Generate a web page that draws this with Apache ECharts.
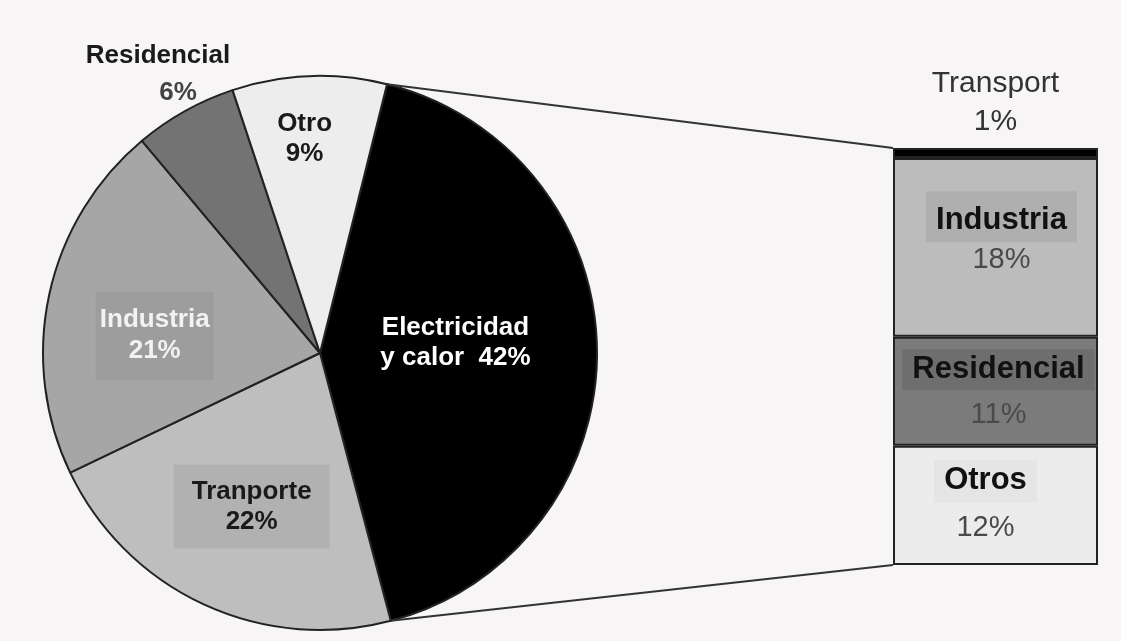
<!DOCTYPE html>
<html>
<head>
<meta charset="utf-8">
<title>Emisiones por sector</title>
<script src="https://cdn.jsdelivr.net/npm/echarts@6/dist/echarts.min.js"></script>
<style>
  html, body { margin: 0; padding: 0; background: #f7f5f6; }
  #chart { width: 1121px; height: 641px; }
</style>
</head>
<body>
<div id="chart"></div>
<script>
// datos del pastel (porcentaje del total)
const pieNames = ["Electricidad y calor", "Tranporte", "Industria", "Residencial", "Otro"];
const pieValues = [42, 22, 21, 6, 9];
// desglose de "Electricidad y calor"
const barNames = ["Transport", "Industria", "Residencial", "Otros"];
const barValues = [1, 18, 11, 12];

const pieColors = ["#000000", "#bebebe", "#a6a6a6", "#737373", "#ededed"];
const barColors = ["#000000", "#bcbcbc", "#7b7b7b", "#ececec"];

const FONT = '"Liberation Sans", Arial, sans-serif';
const pieCenter = [320, 353];
const pieRadius = 277;
const startAngle = 76;
const grid = { left: 893, top: 148, width: 205, height: 417 };

const chart = echarts.init(document.getElementById("chart"));

// etiquetas del pastel
const pieLabels = [
  { formatter: "Electricidad\ny calor  42%", color: "#fff", lineHeight: 30 },
  { formatter: "{b|Tranporte}\n{b|22%}", backgroundColor: "#b1b1b1", padding: [12, 18, 12, 18] },
  { formatter: "{w|Industria}\n{w|21%}", backgroundColor: "#9d9d9d", padding: [13, 4, 14, 4] },
  { formatter: "{r|Residencial}\n{p|6%}" },
  { formatter: "{b|Otro}\n{b|9%}" }
];
const pieShift = [[-6, -9], [-9, 25], [-27, 13], [-93, -155], [-10, -73]];

const pieData = pieValues.map((v, i) => ({
  name: pieNames[i],
  value: v,
  itemStyle: { color: pieColors[i] },
  label: Object.assign({
    show: true,
    position: "inside",
    fontFamily: FONT,
    fontSize: 26,
    fontWeight: "bold",
    lineHeight: 30,
    color: "#111",
    rich: {
      b: { fontFamily: FONT, fontSize: 26, fontWeight: "bold", color: "#1a1a1a", lineHeight: 30 },
      w: { fontFamily: FONT, fontSize: 26, fontWeight: "bold", color: "#f2f2f2", lineHeight: 31 },
      r: { fontFamily: FONT, fontSize: 26, fontWeight: "bold", color: "#1a1a1a", lineHeight: 37 },
      p: { fontFamily: FONT, fontSize: 26, fontWeight: "bold", color: "#444", lineHeight: 37, padding: [0, 0, 0, 40] }
    }
  }, pieLabels[i])
}));

const total = barValues.reduce((a, b) => a + b, 0);

const barLabel = (i) => {
  if (i === 0) {
    return {
      show: true,
      position: "top",
      distance: 7,
      formatter: barNames[i] + "\n" + barValues[i] + "%",
      fontFamily: FONT,
      fontSize: 30,
      lineHeight: 38,
      color: "#333"
    };
  }
  const boxes = ["", "#afafaf", "#6e6e6e", "#e5e5e5"];
  const shifts = [[0, 0], [6, -9], [3, 1], [-10, -1]];
  const gaps = [0, 43, 45, 47];
  const pads = [0, [14, 10, 6, 10], [5, 10], [6, 10]];
  return {
    show: true,
    position: "inside",
    offset: shifts[i],
    formatter: "{n|" + barNames[i] + "}\n{v|" + barValues[i] + "%}",
    rich: {
      n: { fontFamily: FONT, fontSize: 31, fontWeight: "bold", color: "#111", backgroundColor: boxes[i], padding: pads[i], lineHeight: gaps[i] },
      v: { fontFamily: FONT, fontSize: 29, color: "#4a4a4a", lineHeight: gaps[i] }
    }
  };
};

const barSeries = barValues.map((v, i) => ({
  name: barNames[i],
  type: "bar",
  stack: "desglose",
  barWidth: "100%",
  data: [v],
  itemStyle: { color: barColors[i], borderColor: "#222", borderWidth: 2 },
  label: barLabel(i),
  silent: true
}));

// líneas de conexión entre el sector negro y la barra
const sum = pieValues.reduce((a, b) => a + b, 0);
const a0 = startAngle * Math.PI / 180;
const a1 = (startAngle - 360 * pieValues[0] / sum) * Math.PI / 180;
const pTop = [pieCenter[0] + pieRadius * Math.cos(a0), pieCenter[1] - pieRadius * Math.sin(a0)];
const pBot = [pieCenter[0] + pieRadius * Math.cos(a1), pieCenter[1] - pieRadius * Math.sin(a1)];
const yTop = grid.top;
const yBot = grid.top + grid.height;

chart.setOption({
  backgroundColor: "#f7f5f6",
  animation: false,
  grid: grid,
  xAxis: { type: "category", data: ["Electricidad y calor"], show: false },
  yAxis: { type: "value", min: 0, max: total, inverse: true, show: false },
  graphic: [
    { type: "line", shape: { x1: pTop[0], y1: pTop[1], x2: grid.left, y2: yTop }, style: { stroke: "#333", lineWidth: 2 }, z: 10 },
    { type: "line", shape: { x1: pBot[0], y1: pBot[1], x2: grid.left, y2: yBot }, style: { stroke: "#333", lineWidth: 2 }, z: 10 }
  ],
  series: [
    {
      type: "pie",
      center: pieCenter,
      radius: pieRadius,
      startAngle: startAngle,
      clockwise: true,
      silent: true,
      itemStyle: { borderColor: "#222", borderWidth: 2 },
      labelLine: { show: false },
      labelLayout: (p) => ({ dx: pieShift[p.dataIndex][0], dy: pieShift[p.dataIndex][1] }),
      data: pieData
    }
  ].concat(barSeries)
});
</script>
</body>
</html>
